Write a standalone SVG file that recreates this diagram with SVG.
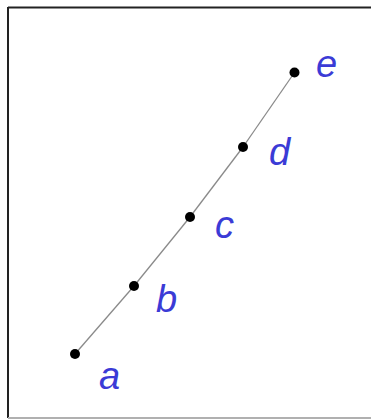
<svg xmlns="http://www.w3.org/2000/svg" width="371" height="419" viewBox="0 0 371 419">
<style>
.lbl{font-family:"Liberation Sans",Arial,sans-serif;font-style:italic;font-size:38px;fill:#3b3bd6}
.pt{fill:#000}
.edge{stroke:#8a8a8a;stroke-width:1.3;fill:none}
</style>
<rect width="371" height="419" fill="#fff"/>
<g id="frame">
<line x1="8" y1="7.5" x2="371" y2="7.5" stroke="#222" stroke-width="2"/>
<line x1="8" y1="7" x2="8" y2="418" stroke="#222" stroke-width="2"/>
<line x1="8" y1="418" x2="371" y2="418" stroke="#b0b0b0" stroke-width="2"/>
</g>
<g id="connectors">
<line class="edge" x1="75" y1="354" x2="134" y2="286"/>
<line class="edge" x1="134" y1="286" x2="190" y2="217"/>
<line class="edge" x1="190" y1="217" x2="243" y2="147"/>
<line class="edge" x1="243" y1="147" x2="294.5" y2="72.5"/>
</g>
<g id="a"><circle class="pt" cx="75" cy="354" r="5"/><text class="lbl" x="99" y="389">a</text></g>
<g id="b"><circle class="pt" cx="134" cy="286" r="5"/><text class="lbl" x="156" y="312">b</text></g>
<g id="c"><circle class="pt" cx="190" cy="217" r="5"/><text class="lbl" x="215" y="238">c</text></g>
<g id="d"><circle class="pt" cx="243" cy="147" r="5"/><text class="lbl" x="269" y="165">d</text></g>
<g id="e"><circle class="pt" cx="294.5" cy="72.5" r="5"/><text class="lbl" x="316" y="77">e</text></g>
</svg>
